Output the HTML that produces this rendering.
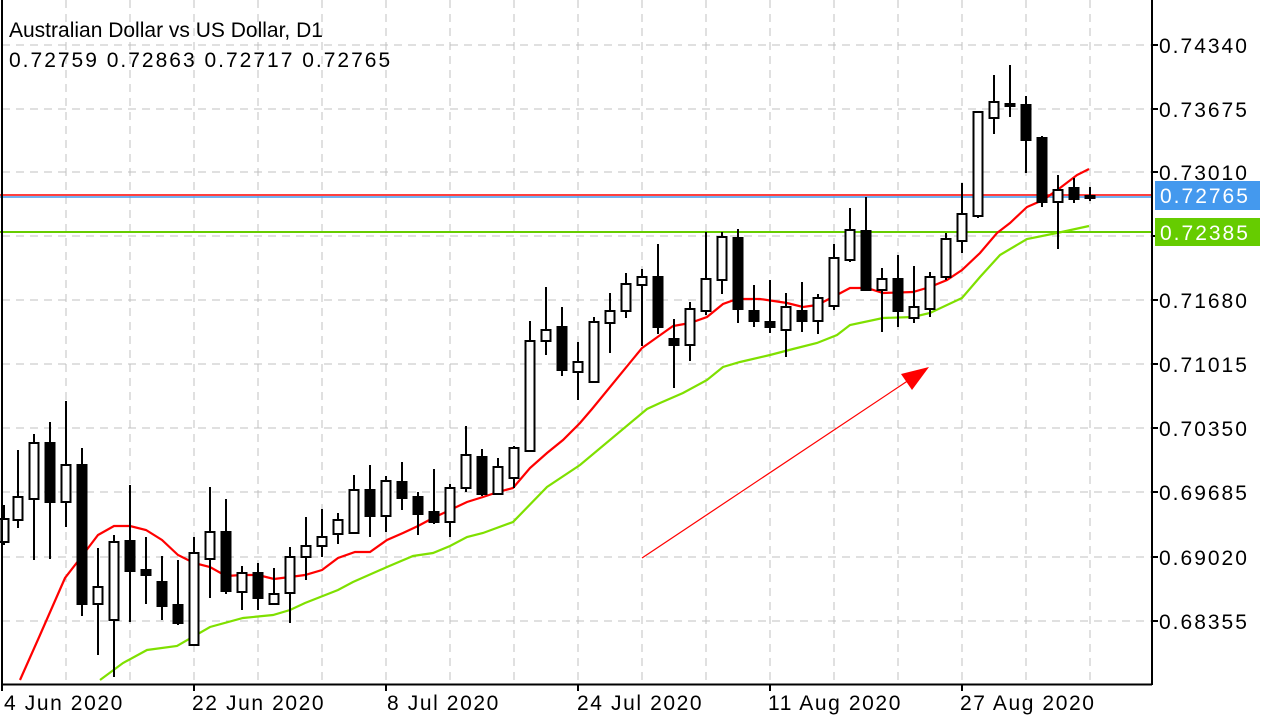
<!DOCTYPE html>
<html><head><meta charset="utf-8"><style>
html,body{margin:0;padding:0;background:#fff;}
svg{display:block;font-family:"Liberation Sans",sans-serif;}
</style></head><body>
<svg id="s" width="1280" height="720" xmlns="http://www.w3.org/2000/svg">
<rect width="1280" height="720" fill="#fff"/>
<g id="grid" stroke="#c0c0c0" stroke-width="1" stroke-dasharray="8,6"></g>
<line x1="0" y1="195" x2="1152" y2="195" stroke="#ff0000" stroke-width="1.5"/>
<line x1="0" y1="197" x2="1152" y2="197" stroke="#4499ee" stroke-width="1.5"/>
<line x1="0" y1="232" x2="1152" y2="232" stroke="#66cc00" stroke-width="2"/>
<polyline id="red" fill="none" stroke="#ff0000" stroke-width="2.2"/>
<polyline id="grn" fill="none" stroke="#7fe000" stroke-width="2.2"/>
<g id="c" stroke="#000" stroke-width="2"></g>
<line x1="642" y1="558" x2="915" y2="376" stroke="#ff0000" stroke-width="1.2"/>
<polygon points="929,367 901,374 912,390" fill="#ff0000"/>
<line x1="2" y1="0" x2="2" y2="685" stroke="#000" stroke-width="2"/>
<line x1="1152" y1="0" x2="1152" y2="685" stroke="#000" stroke-width="2"/>
<line x1="2" y1="684.5" x2="1152" y2="684.5" stroke="#000" stroke-width="2"/>
<g id="ax" font-size="21" fill="#000"></g>
<rect x="1155" y="181" width="105" height="29" fill="#4499ee"/>
<text x="1160" y="203" font-size="21" letter-spacing="2" fill="#fff">0.72765</text>
<rect x="1155" y="218" width="105" height="28" fill="#66cc00"/>
<text x="1160" y="240" font-size="21" letter-spacing="2" fill="#fff">0.72385</text>
<text x="9" y="37" font-size="21">Australian Dollar vs US Dollar, D1</text>
<text x="9" y="67" font-size="21" letter-spacing="2">0.72759 0.72863 0.72717 0.72765</text>
</svg>
<script>
var NS="http://www.w3.org/2000/svg";
function el(p,t,a){var e=document.createElementNS(NS,t);for(var k in a)e.setAttribute(k,a[k]);p.appendChild(e);return e;}
var g=document.getElementById("grid");
for(var x=66;x<1152;x+=64)el(g,"line",{x1:x,y1:0,x2:x,y2:684});
var ys=[45,109,172,236,300,364,428,492,557,621];
var lb=["0.74340","0.73675","0.73010","0.72345","0.71680","0.71015","0.70350","0.69685","0.69020","0.68355"];
ys.forEach(function(y){el(g,"line",{x1:2,y1:y,x2:1152,y2:y});});
var ax=document.getElementById("ax");
ys.forEach(function(y,i){el(ax,"line",{x1:1152,y1:y,x2:1158,y2:y,stroke:"#000","stroke-width":2});
 if(i!=3){var t=el(ax,"text",{x:1159,y:y+8,"letter-spacing":2});t.textContent=lb[i];}});
var dl=[[2,4,"4 Jun 2020"],[194,192,"22 Jun 2020"],[386,387,"8 Jul 2020"],[578,577,"24 Jul 2020"],[770,768,"11 Aug 2020"],[962,960,"27 Aug 2020"]];
dl.forEach(function(d){el(ax,"line",{x1:d[0],y1:684,x2:d[0],y2:691,stroke:"#000","stroke-width":2});var t=el(ax,"text",{x:d[1],y:710,"letter-spacing":1.6});t.textContent=d[2];});
var C=[[4,505,545,519,542,0],[18,450,528,497,520,0],[34,434,560,443,499,0],[50,422,559,443,502,1],[66,401,527,465,502,0],[82,448,616,465,604,1],[98,548,655,587,604,0],[114,535,677,542,620,0],[130,485,622,541,571,1],[146,537,604,570,575,1],[162,556,620,582,606,1],[178,560,625,605,623,1],[194,537,645,553,645,0],[210,487,598,532,559,0],[226,499,594,532,591,1],[242,566,610,573,592,0],[258,563,610,573,598,1],[274,568,605,594,604,0],[290,547,623,557,593,0],[306,517,580,546,557,0],[322,509,557,537,546,0],[338,513,544,520,534,0],[354,475,532,490,533,0],[370,465,537,490,516,1],[386,476,532,481,516,0],[402,462,510,482,498,1],[418,492,535,497,514,1],[434,469,524,512,522,1],[450,484,537,488,522,0],[466,426,492,455,488,0],[482,449,496,457,494,1],[498,458,494,467,494,0],[514,446,488,448,478,0],[530,321,452,341,451,0],[546,287,355,330,341,0],[562,307,376,327,370,1],[578,342,400,362,372,0],[594,317,383,322,382,0],[610,293,353,311,323,0],[626,273,318,284,311,0],[642,269,346,277,285,0],[658,244,334,277,327,1],[674,319,388,339,345,1],[690,302,361,309,345,0],[706,232,315,279,311,0],[722,232,294,237,280,0],[738,229,323,238,309,1],[754,285,327,311,321,1],[770,280,333,322,327,1],[786,293,357,307,330,0],[802,282,332,311,321,1],[818,294,334,298,321,0],[834,244,310,258,306,0],[850,208,262,230,260,0],[866,197,290,231,290,1],[882,268,332,279,290,0],[898,255,327,279,311,1],[914,266,323,307,318,0],[930,272,317,277,309,0],[946,233,280,239,277,0],[962,183,253,214,241,0],[978,112,218,112,216,0],[994,75,134,102,118,0],[1010,65,117,104,106,1],[1026,96,173,105,140,1],[1042,136,207,138,202,1],[1058,175,249,190,202,0],[1074,178,203,188,199,1],[1090,187,201,196,198,1]];
var cg=document.getElementById("c");
C.forEach(function(c){el(cg,"line",{x1:c[0],y1:c[1],x2:c[0],y2:c[2]});
 var h=Math.max(c[4]-c[3],1);el(cg,"rect",{x:c[0]-4.5,y:c[3],width:9,height:h,fill:c[5]?"#000":"#fff"});});
var R=[[20,680],[40,635],[65,578],[82,556],[98,535],[114,526],[130,526],[146,530],[162,540],[178,555],[194,563],[210,567],[226,576],[242,575],[258,575],[274,579],[290,577],[305,575],[322,570],[338,558],[355,552],[370,552],[387,540],[403,533],[418,526],[433,518],[450,510],[467,502],[483,497],[498,492],[513,488],[530,468],[547,453],[563,440],[580,423],[592,409],[642,348],[673,326],[690,323],[707,317],[723,304],[737,299],[760,299],[787,303],[803,307],[817,305],[833,297],[850,288],[867,288],[883,293],[913,292],[930,287],[947,280],[962,270],[980,253],[997,233],[1010,223],[1027,207],[1043,200],[1060,188],[1077,175],[1089,169]];
var G=[[100,680],[123,663],[147,650],[177,646],[210,627],[243,618],[273,615],[290,610],[305,603],[338,590],[353,582],[387,567],[413,556],[433,553],[450,546],[467,537],[483,533],[513,522],[547,487],[580,465],[647,409],[660,403],[683,393],[707,380],[723,367],[740,362],[770,355],[793,349],[817,343],[837,335],[850,325],[883,318],[913,317],[930,313],[962,298],[980,277],[1000,255],[1027,239],[1057,233],[1089,226]];
document.getElementById("red").setAttribute("points",R.map(function(p){return p.join(",")}).join(" "));
document.getElementById("grn").setAttribute("points",G.map(function(p){return p.join(",")}).join(" "));
</script>
</body></html>
